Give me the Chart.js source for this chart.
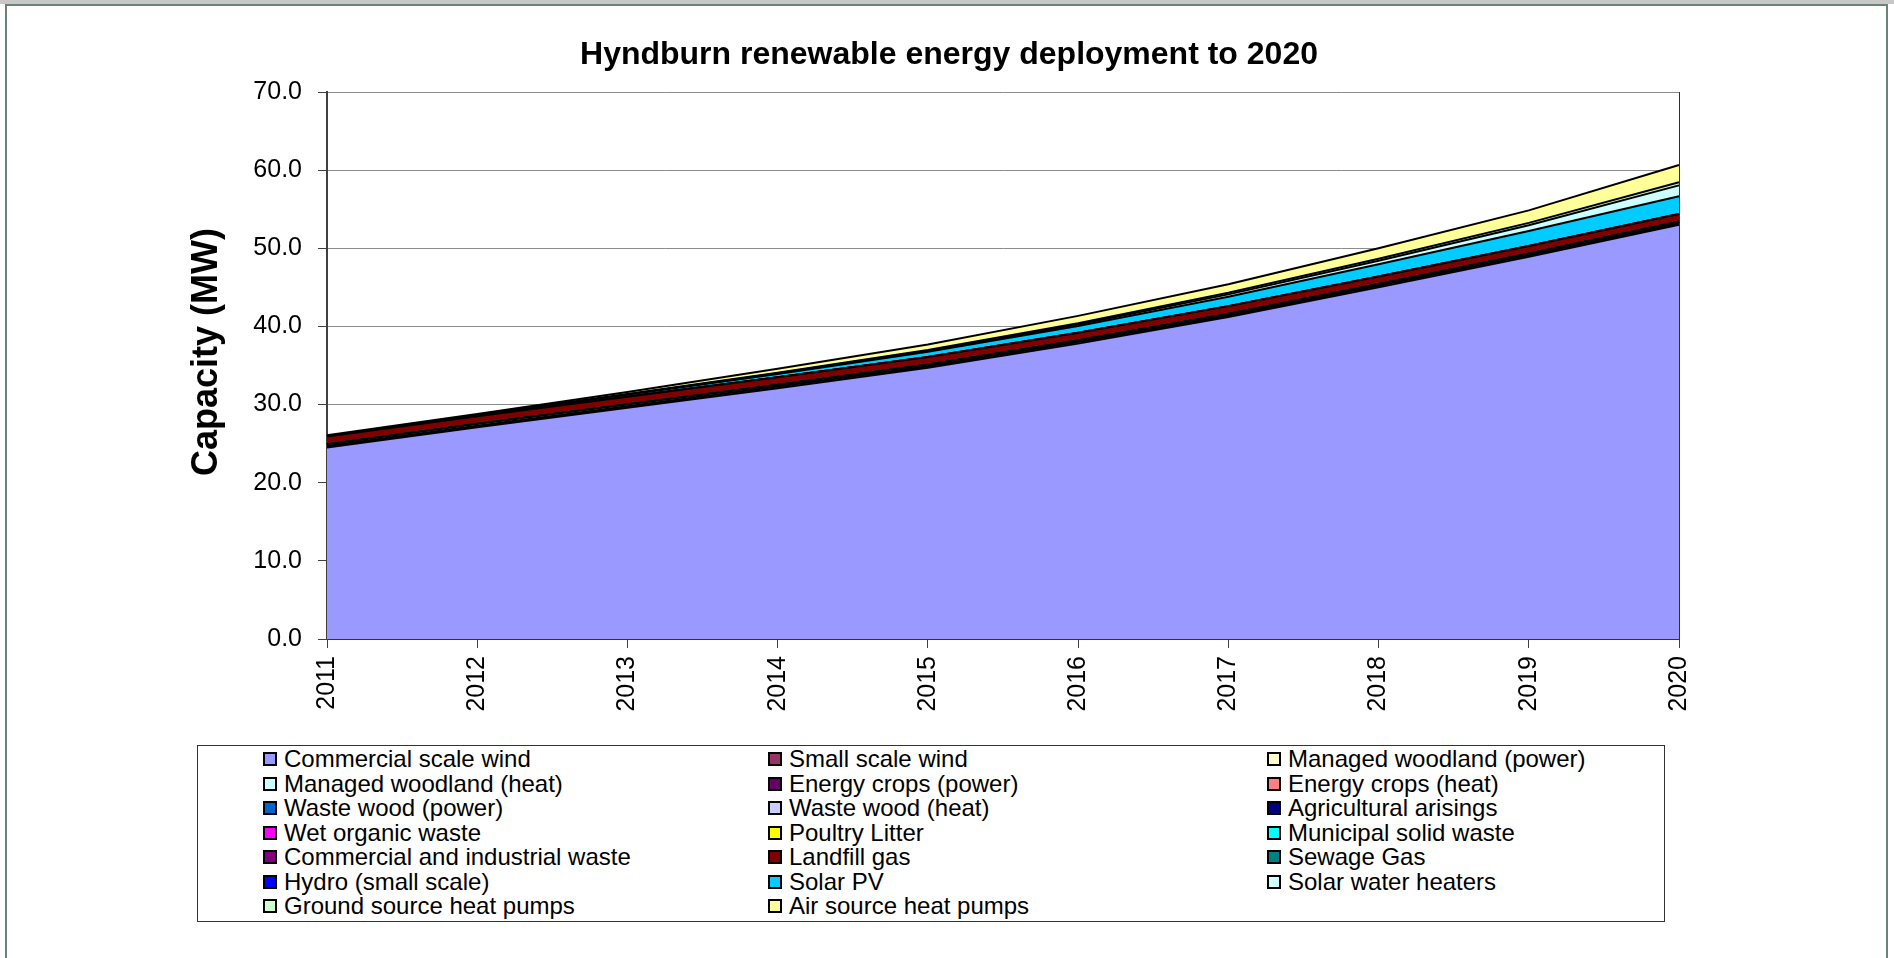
<!DOCTYPE html>
<html>
<head>
<meta charset="utf-8">
<title>Hyndburn renewable energy deployment to 2020</title>
<script src="https://cdn.jsdelivr.net/npm/chart.js@4.4.0/dist/chart.umd.min.js"></script>
<style>
  body { margin: 0; width: 1894px; height: 958px; overflow: hidden; background: #fff;
         font-family: "Liberation Sans", Arial, sans-serif; position: relative; }
  #strip { position: absolute; left: 0; top: 0; width: 1894px; height: 4px; background: #c8c8c8; }
  #frame { position: absolute; left: 5px; top: 4px; width: 1883px; height: 980px;
           border: 2px solid #6a8478; box-sizing: border-box; }
  #wrap { position: absolute; left: 0; top: 0; width: 1894px; height: 740px; }
  #ytitle { position: absolute; left: 205px; top: 352px; transform: translate(-50%, -50%) rotate(-90deg);
            font-size: 36px; font-weight: bold; white-space: nowrap; color: #000; }
  #legend { position: absolute; left: 197px; top: 745px; width: 1468px; height: 177px;
            border: 1px solid #333; box-sizing: border-box; padding: 1px 0 0 65px; }
  .row { display: flex; height: 24.5px; }
  .item { display: flex; align-items: center; font-size: 24px; line-height: 24.5px; color: #000; white-space: nowrap; }
  .c0 { width: 505px; } .c1 { width: 499px; }
  .sw { width: 10px; height: 10px; border: 2px solid #000; margin-right: 7px; }
</style>
</head>
<body>
<div id="strip"></div>
<div id="frame"></div>
<div id="wrap"><canvas id="chart"></canvas></div>
<div id="ytitle">Capacity (MW)</div>
<div id="legend"></div>
<script>
var years = ["2011", "2012", "2013", "2014", "2015", "2016", "2017", "2018", "2019", "2020"];

var commercialWind   = [24.5, 27.1, 29.6, 32.1, 34.7, 37.8, 41.2, 45.0, 48.9, 53.0];
var smallWind        = [0.2, 0.2, 0.2, 0.2, 0.2, 0.2, 0.2, 0.2, 0.2, 0.2];
var woodlandPower    = [0.2, 0.2, 0.2, 0.2, 0.2, 0.2, 0.2, 0.2, 0.2, 0.2];
var woodlandHeat     = [0, 0, 0, 0, 0, 0, 0, 0, 0, 0];
var cropsPower       = [0, 0, 0, 0, 0, 0, 0, 0, 0, 0];
var cropsHeat        = [0, 0, 0, 0, 0, 0, 0, 0, 0, 0];
var wasteWoodPower   = [0, 0, 0, 0, 0, 0, 0, 0, 0, 0];
var wasteWoodHeat    = [0, 0, 0, 0, 0, 0, 0, 0, 0, 0];
var agricultural     = [0, 0, 0, 0, 0, 0, 0, 0, 0, 0];
var wetOrganic       = [0, 0, 0, 0, 0, 0, 0, 0, 0, 0];
var poultryLitter    = [0, 0, 0, 0, 0, 0, 0, 0, 0, 0];
var municipalWaste   = [0, 0, 0, 0, 0, 0, 0, 0, 0, 0];
var commercialWaste  = [0, 0, 0, 0, 0, 0, 0, 0, 0, 0];
var landfillGas      = [1.0, 1.0, 1.0, 1.0, 1.0, 1.0, 1.0, 1.0, 1.0, 1.0];
var sewageGas        = [0, 0, 0, 0, 0, 0, 0, 0, 0, 0];
var hydro            = [0, 0, 0, 0, 0, 0, 0, 0, 0, 0];
var solarPV          = [0.05, 0.12, 0.25, 0.4, 0.65, 0.85, 1.2, 1.55, 1.9, 2.25];
var solarWater       = [0.02, 0.03, 0.05, 0.1, 0.15, 0.2, 0.3, 0.45, 0.75, 1.4];
var groundHeatPumps  = [0.02, 0.03, 0.05, 0.08, 0.1, 0.15, 0.2, 0.25, 0.3, 0.4];
var airHeatPumps     = [0.1, 0.12, 0.25, 0.5, 0.7, 0.95, 1.1, 1.35, 1.6, 2.2];

var seriesNames = ["Commercial scale wind", "Small scale wind", "Managed woodland (power)",
  "Managed woodland (heat)", "Energy crops (power)", "Energy crops (heat)",
  "Waste wood (power)", "Waste wood (heat)", "Agricultural arisings",
  "Wet organic waste", "Poultry Litter", "Municipal solid waste",
  "Commercial and industrial waste", "Landfill gas", "Sewage Gas",
  "Hydro (small scale)", "Solar PV", "Solar water heaters",
  "Ground source heat pumps", "Air source heat pumps"];
var seriesData = [commercialWind, smallWind, woodlandPower, woodlandHeat, cropsPower, cropsHeat,
  wasteWoodPower, wasteWoodHeat, agricultural, wetOrganic, poultryLitter, municipalWaste,
  commercialWaste, landfillGas, sewageGas, hydro, solarPV, solarWater, groundHeatPumps, airHeatPumps];
var seriesColors = ["#9999FF", "#993366", "#FFFFCC", "#CCFFFF", "#660066", "#FF8080",
  "#0066CC", "#CCCCFF", "#000080", "#FF00FF", "#FFFF00", "#00FFFF",
  "#800080", "#800000", "#008080", "#0000FF", "#00CCFF", "#CCFFFF", "#CCFFCC", "#FFFF99"];

var datasets = seriesNames.map(function(name, i) {
    return {
        label: name,
        data: seriesData[i],
        backgroundColor: seriesColors[i],
        borderColor: "#000",
        borderWidth: 2,
        fill: i === 0 ? "origin" : "-1",
        pointRadius: 0,
        tension: 0
    };
});

var font = "'Liberation Sans', Arial, sans-serif";

new Chart(document.getElementById("chart"), {
    type: "line",
    data: { labels: years, datasets: datasets },
    options: {
        responsive: true,
        maintainAspectRatio: false,
        animation: false,
        layout: { padding: { left: 184, right: 180, top: 0, bottom: 0 } },
        scales: {
            x: {
                offset: false,
                grid: {
                    color: function(ctx) { return ctx.index === 9 ? "#303030" : "rgba(0,0,0,0)"; },
                    tickColor: "#404040",
                    tickLength: 9
                },
                border: { color: "#333", width: 2 },
                ticks: { minRotation: 90, maxRotation: 90, autoSkip: false, padding: 8,
                         color: "#000", font: { family: font, size: 25 } },
                afterFit: function(s) { s.height = 101; }
            },
            y: {
                stacked: true,
                min: 0,
                max: 70,
                ticks: { stepSize: 10, padding: 16, color: "#000", font: { family: font, size: 25 },
                         callback: function(v) { return v.toFixed(1); } },
                grid: { color: "#8c8c8c", tickColor: "#404040", tickLength: 9 },
                border: { color: "#404040", width: 2 },
                afterFit: function(s) { s.width = 143; }
            },
            y2: {
                position: "right",
                ticks: { display: false },
                grid: { drawOnChartArea: false, drawTicks: false },
                border: { display: false },
                afterFit: function(s) { s.width = 35; }
            }
        },
        plugins: {
            legend: { display: false },
            tooltip: { enabled: false },
            title: {
                display: true,
                text: "Hyndburn renewable energy deployment to 2020",
                color: "#000",
                font: { family: font, size: 32, weight: "bold" },
                padding: { top: 36, bottom: 17.6 }
            }
        }
    }
});

// legend, three columns, filled row by row
var legend = document.getElementById("legend");
var html = "";
for (var r = 0; r < Math.ceil(seriesNames.length / 3); r++) {
    html += '<div class="row">';
    for (var c = 0; c < 3; c++) {
        var i = r * 3 + c;
        if (i >= seriesNames.length) break;
        html += '<div class="item c' + c + '"><span class="sw" style="background:' + seriesColors[i] + '"></span>' + seriesNames[i] + '</div>';
    }
    html += '</div>';
}
legend.innerHTML = html;
</script>
</body>
</html>
